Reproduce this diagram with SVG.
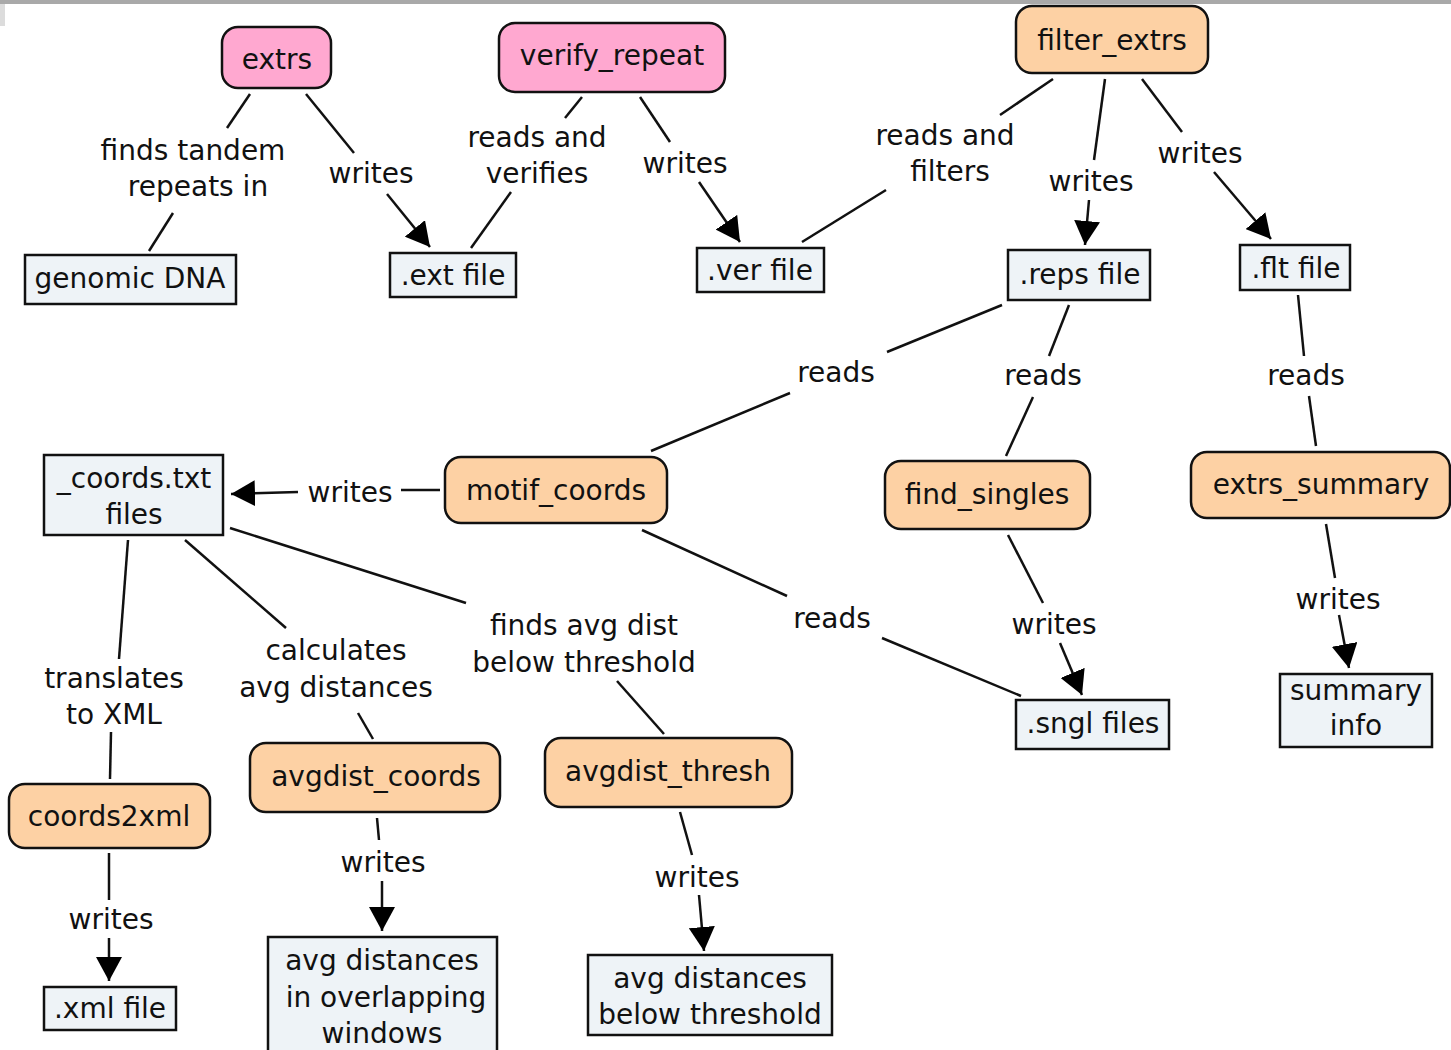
<svg xmlns="http://www.w3.org/2000/svg" width="1451" height="1050" viewBox="0 0 1451 1050">
<style>
text{font-family:"DejaVu Sans","Verdana",sans-serif;font-size:28px;fill:#111;text-anchor:middle}
.pink{fill:#ffa8d0;stroke:#111;stroke-width:2.5}
.orange{fill:#fdd1a4;stroke:#111;stroke-width:2.5}
.file{fill:#eef3f7;stroke:#111;stroke-width:2.5}
.c line{stroke:#111;stroke-width:2.5;fill:none}
.c line.a{marker-end:url(#arr)}
</style>
<defs>
<marker id="arr" markerUnits="userSpaceOnUse" markerWidth="24" markerHeight="26" refX="24" refY="13" orient="auto" viewBox="0 0 24 26">
<path d="M0,0 L24,13 L0,26 z" fill="#000"/>
</marker>
</defs>
<rect x="0" y="0" width="1451" height="1050" fill="#fff"/>
<rect x="0" y="0" width="1451" height="4" fill="#a9a9a9"/>
<rect x="0" y="4" width="5" height="22" fill="#dcdcdc"/>

<g id="connectors" class="c">
<line x1="250" y1="94" x2="227" y2="128"/>
<line x1="173" y1="213" x2="149" y2="251"/>
<line x1="306" y1="94" x2="354" y2="153"/>
<line class="a" x1="387" y1="194" x2="430" y2="247"/>
<line x1="582" y1="97" x2="565" y2="118"/>
<line x1="511" y1="192" x2="471" y2="248"/>
<line x1="640" y1="97" x2="670" y2="142"/>
<line class="a" x1="699" y1="182" x2="740" y2="242"/>
<line x1="1053" y1="79" x2="1000" y2="115"/>
<line x1="886" y1="190" x2="802" y2="242"/>
<line x1="1105" y1="79" x2="1094" y2="160"/>
<line class="a" x1="1089" y1="200" x2="1085" y2="245"/>
<line x1="1142" y1="79" x2="1182" y2="132"/>
<line class="a" x1="1214" y1="172" x2="1271" y2="239"/>
<line x1="1002" y1="305" x2="887" y2="352"/>
<line x1="790" y1="393" x2="651" y2="451"/>
<line x1="1069" y1="305" x2="1049" y2="356"/>
<line x1="1033" y1="397" x2="1006" y2="456"/>
<line x1="1298" y1="295" x2="1304" y2="356"/>
<line x1="1309" y1="396" x2="1316" y2="446"/>
<line x1="440" y1="490" x2="401" y2="490"/>
<line class="a" x1="298" y1="492" x2="231" y2="494"/>
<line x1="128" y1="540" x2="119" y2="659"/>
<line x1="111" y1="732" x2="110" y2="779"/>
<line x1="185" y1="540" x2="286" y2="628"/>
<line x1="358" y1="713" x2="373" y2="739"/>
<line x1="230" y1="528" x2="466" y2="603"/>
<line x1="617" y1="681" x2="664" y2="734"/>
<line x1="642" y1="530" x2="787" y2="596"/>
<line x1="882" y1="638" x2="1021" y2="696"/>
<line x1="1008" y1="535" x2="1043" y2="603"/>
<line class="a" x1="1060" y1="643" x2="1082" y2="695"/>
<line x1="1326" y1="524" x2="1335" y2="578"/>
<line class="a" x1="1339" y1="615" x2="1349" y2="668"/>
<line x1="109" y1="853" x2="109" y2="900"/>
<line class="a" x1="109" y1="938" x2="109" y2="981"/>
<line x1="377" y1="818" x2="379" y2="840"/>
<line class="a" x1="382" y1="881" x2="382" y2="931"/>
<line x1="680" y1="812" x2="692" y2="855"/>
<line class="a" x1="699" y1="895" x2="704" y2="951"/>
</g>

<g id="labels">
<text x="193" y="160">finds tandem</text><text x="198" y="196">repeats in</text>
<text x="371" y="183">writes</text>
<text x="537" y="147">reads and</text><text x="537" y="183">verifies</text>
<text x="685" y="173">writes</text>
<text x="945" y="145">reads and</text><text x="950" y="181">filters</text>
<text x="1091" y="191">writes</text>
<text x="1200" y="163">writes</text>
<text x="836" y="382">reads</text>
<text x="1043" y="385">reads</text>
<text x="1306" y="385">reads</text>
<text x="350" y="502">writes</text>
<text x="114" y="688">translates</text><text x="114" y="724">to XML</text>
<text x="336" y="660">calculates</text><text x="336" y="697">avg distances</text>
<text x="584" y="635">finds avg dist</text><text x="584" y="672">below threshold</text>
<text x="832" y="628">reads</text>
<text x="1054" y="634">writes</text>
<text x="1338" y="609">writes</text>
<text x="111" y="929">writes</text>
<text x="383" y="872">writes</text>
<text x="697" y="887">writes</text>
</g>

<g id="extrs"><rect class="pink" x="222" y="27" width="109" height="61" rx="16"/><text x="277" y="69">extrs</text></g>
<g id="verify_repeat"><rect class="pink" x="499" y="23" width="226" height="69" rx="16"/><text x="612" y="65">verify_repeat</text></g>
<g id="filter_extrs"><rect class="orange" x="1016" y="6" width="192" height="67" rx="16"/><text x="1112" y="50">filter_extrs</text></g>
<g id="genomic_dna"><rect class="file" x="25" y="255" width="211" height="49"/><text x="130" y="288">genomic DNA</text></g>
<g id="ext_file"><rect class="file" x="390" y="253" width="126" height="44"/><text x="453" y="285">.ext file</text></g>
<g id="ver_file"><rect class="file" x="697" y="248" width="127" height="44"/><text x="760" y="280">.ver file</text></g>
<g id="reps_file"><rect class="file" x="1008" y="250" width="142" height="50"/><text x="1080" y="284">.reps file</text></g>
<g id="flt_file"><rect class="file" x="1240" y="245" width="110" height="45"/><text x="1296" y="278">.flt file</text></g>
<g id="motif_coords"><rect class="orange" x="445" y="457" width="222" height="66" rx="16"/><text x="556" y="500">motif_coords</text></g>
<g id="find_singles"><rect class="orange" x="885" y="461" width="205" height="68" rx="16"/><text x="987" y="504">find_singles</text></g>
<g id="extrs_summary"><rect class="orange" x="1191" y="452" width="259" height="66" rx="16"/><text x="1321" y="494">extrs_summary</text></g>
<g id="coords_txt"><rect class="file" x="44" y="455" width="179" height="80"/><text x="134" y="488">_coords.txt</text><text x="134" y="524">files</text></g>
<g id="sngl_files"><rect class="file" x="1016" y="700" width="153" height="49"/><text x="1093" y="733">.sngl files</text></g>
<g id="summary_info"><rect class="file" x="1280" y="674" width="152" height="73"/><text x="1356" y="700">summary</text><text x="1356" y="735">info</text></g>
<g id="coords2xml"><rect class="orange" x="9" y="784" width="201" height="64" rx="16"/><text x="109" y="826">coords2xml</text></g>
<g id="avgdist_coords"><rect class="orange" x="250" y="743" width="250" height="69" rx="16"/><text x="376" y="786">avgdist_coords</text></g>
<g id="avgdist_thresh"><rect class="orange" x="545" y="738" width="247" height="69" rx="16"/><text x="668" y="781">avgdist_thresh</text></g>
<g id="xml_file"><rect class="file" x="44" y="987" width="132" height="43"/><text x="110" y="1018">.xml file</text></g>
<g id="avg_overlap"><rect class="file" x="268" y="937" width="229" height="125"/><text x="382" y="970">avg distances</text><text x="386" y="1007">in overlapping</text><text x="382" y="1043">windows</text></g>
<g id="avg_below"><rect class="file" x="588" y="955" width="244" height="80"/><text x="710" y="988">avg distances</text><text x="710" y="1024">below threshold</text></g>
</svg>
